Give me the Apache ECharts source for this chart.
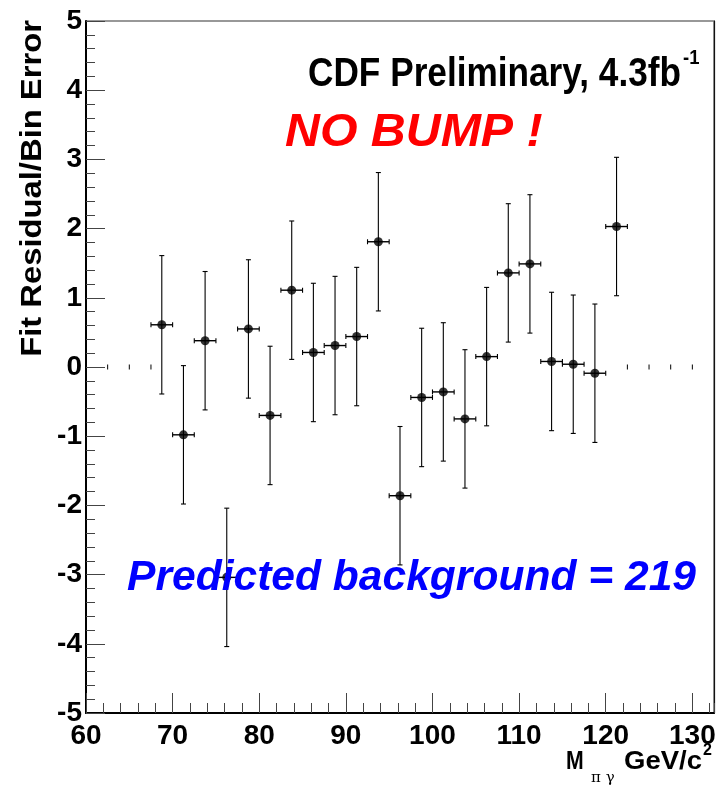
<!DOCTYPE html>
<html>
<head>
<meta charset="utf-8">
<script src="https://cdn.jsdelivr.net/npm/echarts@6/dist/echarts.min.js"></script>
<style>
html,body{margin:0;padding:0;background:#fff;}
#chart{width:720px;height:788px;}
</style>
</head>
<body>
<div id="chart"></div>
<script>
// ---- data ----
const binCenters = [68.75, 71.25, 73.75, 76.25, 78.75, 81.25, 83.75, 86.25, 88.75, 91.25, 93.75,
                    96.25, 98.75, 101.25, 103.75, 106.25, 108.75, 111.25, 113.75, 116.25, 118.75, 121.25];
const residuals = [0.61, -0.98, 0.38, -3.04, 0.55, -0.70, 1.11, 0.21, 0.31, 0.44, 1.81,
                   -1.86, -0.44, -0.36, -0.75, 0.15, 1.36, 1.49, 0.08, 0.04, -0.09, 2.03];
const residualErrors = [1, 1, 1, 1, 1, 1, 1, 1, 1, 1, 1,
                        1, 1, 1, 1, 1, 1, 1, 1, 1, 1, 1];
const binHalfWidths = [1.25, 1.25, 1.25, 1.25, 1.25, 1.25, 1.25, 1.25, 1.25, 1.25, 1.25,
                       1.25, 1.25, 1.25, 1.25, 1.25, 1.25, 1.25, 1.25, 1.25, 1.25, 1.25];
const emptyBinX = [62.5, 65, 67.5, 122.5, 125, 127.5, 130];
const emptyBinY = [0, 0, 0, 0, 0, 0, 0];
const xTickValues = [60, 70, 80, 90, 100, 110, 120, 130];
const yTickValues = [-5, -4, -3, -2, -1, 0, 1, 2, 3, 4, 5];

const FONT = '"Liberation Sans", Arial, Helvetica, sans-serif';

const pointData = binCenters.map((x, i) => [x, residuals[i], residualErrors[i], binHalfWidths[i]]);
const emptyData = emptyBinX.map((x, i) => [x, emptyBinY[i]]);

function seg(x1, y1, x2, y2, w) {
  return { type: 'line', shape: { x1, y1, x2, y2 }, style: { stroke: '#000', lineWidth: w || 1.1 } };
}

function renderErrorBars(params, api) {
  const x = api.value(0), y = api.value(1), ey = api.value(2), ex = api.value(3);
  const c = api.coord([x, y]);
  const t = api.coord([x, y + ey]);
  const b = api.coord([x, y - ey]);
  const l = api.coord([x - ex, y]);
  const r = api.coord([x + ex, y]);
  const cap = 2.5;
  return {
    type: 'group',
    children: [
      seg(c[0], t[1], c[0], b[1]),
      seg(c[0] - cap, t[1], c[0] + cap, t[1]),
      seg(c[0] - cap, b[1], c[0] + cap, b[1]),
      seg(l[0], c[1], r[0], c[1], 1.4),
      seg(l[0], c[1] - cap, l[0], c[1] + cap),
      seg(r[0], c[1] - cap, r[0], c[1] + cap)
    ]
  };
}

function renderEmpty(params, api) {
  const p = api.coord([api.value(0), api.value(1)]);
  return seg(p[0], p[1] - 2.5, p[0], p[1] + 2.5, 1);
}

const chart = echarts.init(document.getElementById('chart'), null, { renderer: 'canvas' });

const option = {
  backgroundColor: '#fff',
  animation: false,
  grid: {
    left: 86, right: 6, top: 21, bottom: 75,
    containLabel: false, outerBoundsMode: 'none',
    show: true, borderColor: '#777', borderWidth: 1.5, backgroundColor: 'transparent'
  },
  xAxis: [
    {
      type: 'value', min: 60, max: 132.5, interval: 10, position: 'bottom',
      axisLine: { show: true, onZero: false, lineStyle: { color: '#000', width: 2 } },
      axisTick: { show: true, inside: true, length: 20, lineStyle: { color: '#444', width: 1 } },
      minorTick: { show: false },
      splitLine: { show: false },
      axisLabel: {
        show: true, margin: 9, color: '#000', fontSize: 28, fontWeight: 'bold', fontFamily: FONT,
        showMaxLabel: false,
        formatter: v => (xTickValues.indexOf(v) >= 0 ? String(v) : '')
      }
    },
    {
      type: 'value', min: 60, max: 132.5, interval: 2, position: 'bottom',
      axisLine: { show: false, onZero: false },
      axisTick: { show: true, inside: true, length: 10, lineStyle: { color: '#444', width: 1 } },
      splitLine: { show: false },
      axisLabel: { show: false }
    }
  ],
  yAxis: [
    {
      type: 'value', min: -5, max: 5, interval: 1, position: 'left',
      axisLine: { show: true, onZero: false, lineStyle: { color: '#000', width: 2 } },
      axisTick: { show: true, inside: true, length: 19, lineStyle: { color: '#444', width: 1 } },
      minorTick: { show: true, splitNumber: 5, length: 9, lineStyle: { color: '#444', width: 1 } },
      splitLine: { show: false },
      axisLabel: {
        show: true, margin: 4, color: '#000', fontSize: 28, fontWeight: 'bold', fontFamily: FONT,
        formatter: v => (yTickValues.indexOf(v) >= 0 ? String(v) : '')
      }
    },
    {
      type: 'value', min: -5, max: 5, position: 'right',
      axisLine: { show: true, onZero: false, lineStyle: { color: '#111', width: 1.2 } },
      axisTick: { show: false }, axisLabel: { show: false }, splitLine: { show: false }
    }
  ],
  series: [
    {
      type: 'custom', name: 'empty', xAxisIndex: 0, yAxisIndex: 0,
      renderItem: renderEmpty, data: emptyData, z: 3, silent: true
    },
    {
      type: 'custom', name: 'errors', xAxisIndex: 0, yAxisIndex: 0,
      renderItem: renderErrorBars, data: pointData, z: 3, silent: true,
      encode: { x: 0, y: 1 }
    },
    {
      type: 'scatter', name: 'residual', xAxisIndex: 0, yAxisIndex: 0,
      data: pointData.map(d => [d[0], d[1]]),
      symbol: 'circle', symbolSize: 9,
      itemStyle: { color: '#000' }, z: 4, silent: true
    }
  ],
  graphic: [
    { type: 'text', x: 681, y: 75, scaleX: 0.88, z: 100,
      style: { text: 'CDF Preliminary, 4.3fb', font: 'bold 40px ' + FONT, fill: '#000', textAlign: 'right', textVerticalAlign: 'middle' } },
    { type: 'text', x: 683, y: 58, scaleX: 0.88, z: 100,
      style: { text: '-1', font: 'bold 21px ' + FONT, fill: '#000', textAlign: 'left', textVerticalAlign: 'middle' } },
    { type: 'text', x: 285, y: 133, scaleX: 1.05, z: 100,
      style: { text: 'NO BUMP !', font: 'italic bold 46px ' + FONT, fill: '#ff0000', textAlign: 'left', textVerticalAlign: 'middle' } },
    { type: 'text', x: 127, y: 578, scaleX: 0.99, z: 100,
      style: { text: 'Predicted background = 219', font: 'italic bold 43px ' + FONT, fill: '#0000ff', textAlign: 'left', textVerticalAlign: 'middle' } },
    { type: 'text', x: 33, y: 20, rotation: Math.PI / 2, scaleX: 1.13, z: 100,
      style: { text: 'Fit Residual/Bin Error', font: 'bold 29px ' + FONT, fill: '#000', textAlign: 'right', textVerticalAlign: 'middle' } },
    { type: 'text', x: 566, y: 762, scaleX: 0.85, z: 100,
      style: { text: 'M', font: 'bold 25px ' + FONT, fill: '#000', textAlign: 'left', textVerticalAlign: 'middle' } },
    { type: 'text', x: 591, y: 778, z: 100,
      style: { text: 'π γ', font: '15px "DejaVu Serif", "Liberation Serif", serif', fill: '#000', textAlign: 'left', textVerticalAlign: 'middle' } },
    { type: 'text', x: 702, y: 762, scaleX: 1.1, z: 100,
      style: { text: 'GeV/c', font: 'bold 25px ' + FONT, fill: '#000', textAlign: 'right', textVerticalAlign: 'middle' } },
    { type: 'text', x: 703, y: 751, z: 100,
      style: { text: '2', font: 'bold 16px ' + FONT, fill: '#000', textAlign: 'left', textVerticalAlign: 'middle' } }
  ]
};

chart.setOption(option);
</script>
</body>
</html>
